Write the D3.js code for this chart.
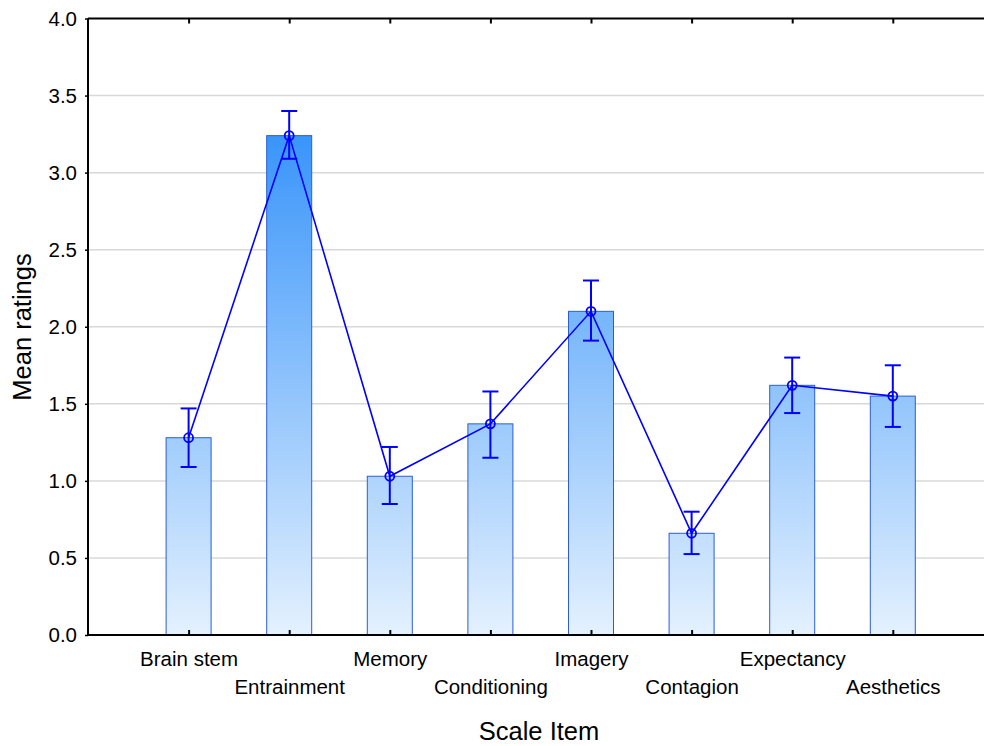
<!DOCTYPE html>
<html>
<head>
<meta charset="utf-8">
<script src="https://cdn.jsdelivr.net/npm/d3@7"></script>
<style>
  html, body { margin: 0; padding: 0; background: #fff; }
  svg { display: block; font-family: "Liberation Sans", Arial, sans-serif; }
</style>
</head>
<body>
<svg id="chart" width="984" height="746"></svg>
<script>
// Scale items and their mean ratings with error-bar limits
const categories = ["Brain stem", "Entrainment", "Memory", "Conditioning", "Imagery", "Contagion", "Expectancy", "Aesthetics"];
const means = [1.28, 3.24, 1.03, 1.37, 2.10, 0.66, 1.62, 1.55];
const lower = [1.09, 3.09, 0.85, 1.15, 1.91, 0.525, 1.44, 1.35];
const upper = [1.47, 3.40, 1.22, 1.58, 2.30, 0.80, 1.80, 1.75];
const yTicks = [0.0, 0.5, 1.0, 1.5, 2.0, 2.5, 3.0, 3.5, 4.0];

const data = categories.map((c, i) => ({ c, m: means[i], lo: lower[i], hi: upper[i] }));

const svg = d3.select("#chart");
const plotLeft = 88, plotTop = 18.5, plotBottom = 635, step = 100.6;
const plotRight = plotLeft + step * (categories.length + 1);
const tickFont = 20.5, titleFont = 25.5;

// Categories sit on integer positions 1..8 of a 0..9 domain
const x = d3.scaleLinear().domain([0, categories.length + 1]).range([plotLeft, plotRight]);
const y = d3.scaleLinear().domain([0, 4]).range([plotBottom, plotTop]);
const barW = 45;

const defs = svg.append("defs");
const grad = defs.append("linearGradient")
  .attr("id", "barGrad").attr("gradientUnits", "userSpaceOnUse")
  .attr("x1", 0).attr("x2", 0).attr("y1", y(3.3)).attr("y2", y(0));
grad.append("stop").attr("offset", "0%").attr("stop-color", "#3693fa");
grad.append("stop").attr("offset", "100%").attr("stop-color", "#e4f1fe");

// Horizontal grid
svg.append("g").selectAll("line").data(yTicks.filter(t => t > 0 && t < 4)).join("line")
  .attr("x1", plotLeft).attr("x2", 984)
  .attr("y1", d => y(d)).attr("y2", d => y(d))
  .attr("stroke", "#d8d8d8").attr("stroke-width", 1.5);

// Bars
svg.append("g").selectAll("rect").data(data).join("rect")
  .attr("x", (d, i) => x(i + 1) - barW / 2)
  .attr("y", d => y(d.m))
  .attr("width", barW)
  .attr("height", d => y(0) - y(d.m))
  .attr("fill", "url(#barGrad)")
  .attr("stroke", "#2a5ed8").attr("stroke-width", 1);

// Axes
const yAxis = d3.axisLeft(y).tickValues(yTicks).tickFormat(d3.format(".1f")).tickSize(3).tickPadding(8);
const gy = svg.append("g").attr("transform", `translate(${plotLeft},0)`).call(yAxis);
gy.select(".domain").attr("stroke", "#000").attr("stroke-width", 2).attr("d", `M0,${plotTop}V${plotBottom}`);
gy.selectAll(".tick line").attr("stroke", "#000").attr("stroke-width", 1.5);
gy.selectAll(".tick text").attr("font-size", tickFont).attr("fill", "#000")
  .style("font-family", "'Liberation Sans', Arial, sans-serif");

const xPos = d3.range(1, categories.length + 1);
const xAxis = d3.axisBottom(x).tickValues(xPos).tickFormat(d => categories[d - 1]).tickSizeInner(-5).tickSizeOuter(0).tickPadding(10);
const gx = svg.append("g").attr("transform", `translate(0,${plotBottom})`).call(xAxis);
gx.select(".domain").attr("stroke", "#000").attr("stroke-width", 2).attr("d", `M${plotLeft},0H984`);
gx.selectAll(".tick line").attr("stroke", "#000").attr("stroke-width", 2);
gx.selectAll(".tick text")
  .attr("font-size", tickFont).attr("fill", "#000")
  .style("font-family", "'Liberation Sans', Arial, sans-serif")
  .attr("y", (d) => (d % 2 === 1 ? 16 : 44))
  .attr("dy", "0.71em");

// Top frame with small ticks
const xTop = d3.axisTop(x).tickValues(xPos).tickFormat("").tickSizeInner(-5).tickSizeOuter(0);
const gt = svg.append("g").attr("transform", `translate(0,${plotTop})`).call(xTop);
gt.select(".domain").attr("stroke", "#000").attr("stroke-width", 2).attr("d", `M${plotLeft},0H984`);
gt.selectAll(".tick line").attr("stroke", "#000").attr("stroke-width", 2);

// Error bars
const cap = 8;
const eb = svg.append("g").attr("stroke", "#0000ff").attr("stroke-width", 2).attr("fill", "none");
data.forEach((d, i) => {
  const cx = x(i + 1);
  eb.append("line").attr("x1", cx).attr("x2", cx).attr("y1", y(d.lo)).attr("y2", y(d.hi));
  eb.append("line").attr("x1", cx - cap).attr("x2", cx + cap).attr("y1", y(d.lo)).attr("y2", y(d.lo));
  eb.append("line").attr("x1", cx - cap).attr("x2", cx + cap).attr("y1", y(d.hi)).attr("y2", y(d.hi));
});

// Mean line with hollow markers
const line = d3.line().x((d, i) => x(i + 1)).y(d => y(d.m));
svg.append("path").datum(data).attr("d", line)
  .attr("fill", "none").attr("stroke", "#0000ff").attr("stroke-width", 1.6);
svg.append("g").selectAll("circle").data(data).join("circle")
  .attr("cx", (d, i) => x(i + 1)).attr("cy", d => y(d.m)).attr("r", 4.5)
  .attr("fill", "none").attr("stroke", "#0000ff").attr("stroke-width", 1.8);

// Axis titles
svg.append("text").attr("x", 539).attr("y", 740).attr("text-anchor", "middle")
  .attr("font-size", titleFont).attr("fill", "#000").text("Scale Item");
svg.append("text").attr("transform", "translate(31,327) rotate(-90)").attr("text-anchor", "middle")
  .attr("font-size", titleFont).attr("fill", "#000").text("Mean ratings");
</script>
</body>
</html>
